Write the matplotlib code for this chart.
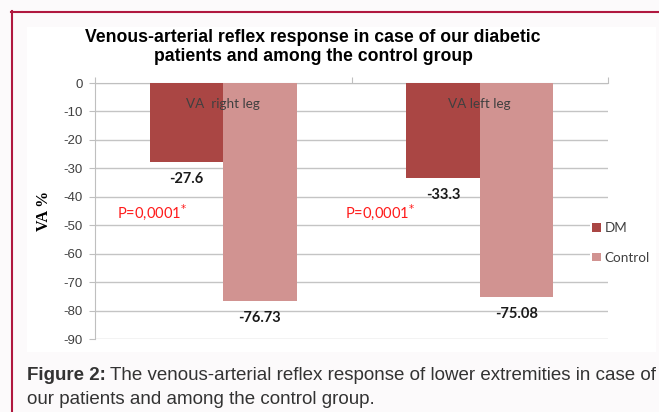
import matplotlib.pyplot as plt
import numpy as np
from matplotlib.lines import Line2D
from matplotlib.patches import Rectangle

categories = ['VA  right leg', 'VA left leg']
series = ['DM', 'Control']
dm_values = [-27.6, -33.3]
control_values = [-76.73, -75.08]
dm_labels = ['-27.6', '-33.3']
control_labels = ['-76.73', '-75.08']
p_labels = ['P=0,0001', 'P=0,0001']
y_ticks = [0, -10, -20, -30, -40, -50, -60, -70, -80, -90]

colors = ['#aa4644', '#d19391']
W, H = 659, 412

fig = plt.figure(figsize=(W / 100, H / 100), dpi=100, facecolor='#fcfafb')

# page frame and white chart area
fig.add_artist(Rectangle((27 / W, 1 - 352 / H), 629 / W, 325 / H, transform=fig.transFigure,
                         facecolor='white', edgecolor='none', zorder=0))
fig.add_artist(Line2D([11 / W, 1], [1 - 11.5 / H, 1 - 11.5 / H], transform=fig.transFigure,
                      color='#b0183f', lw=1.5))
fig.add_artist(Line2D([11.5 / W, 11.5 / W], [0, 1 - 11 / H], transform=fig.transFigure,
                      color='#b0183f', lw=1.5))

ax = fig.add_axes([95 / W, 1 - 339 / H, 513 / W, 256 / H])
ax.set_facecolor('none')

x = np.arange(len(categories))
width = 0.286
ax.bar(x - width / 2, dm_values, width, color=colors[0], label=series[0], zorder=3)
ax.bar(x + width / 2, control_values, width, color=colors[1], label=series[1], zorder=3)

ax.set_xlim(-0.5, 1.5)
ax.set_ylim(-90, 0)
ax.set_yticks(y_ticks)
ax.set_yticklabels([str(t) for t in y_ticks], fontsize=9.5, color='#404040', family='Liberation Sans')
ax.yaxis.grid(True, color='#c4c4c4', lw=1, zorder=0)
ax.tick_params(axis='y', length=4, color='#bfbfbf', pad=5)

ax.set_xticks([-0.5, 0.5, 1.5])
ax.set_xticklabels([])
ax.xaxis.set_ticks_position('top')
ax.tick_params(axis='x', length=4, color='#bfbfbf', direction='out')

for s in ['right', 'bottom']:
    ax.spines[s].set_visible(False)
for s in ['left', 'top']:
    ax.spines[s].set_color('#bfbfbf')

p_offsets = (-0.415, -0.526)
for i, cat in enumerate(categories):
    ax.text(x[i], -7.5, cat, ha='center', va='center', fontsize=9.7, color='#404040',
            family='Lato', zorder=4)
    ax.text(x[i] - width / 2, dm_values[i] - 6, dm_labels[i], ha='center', va='center',
            fontsize=10.5, fontweight='bold', color='#1a1a1a', family='Lato', zorder=4)
    ax.text(x[i] + width / 2, control_values[i] - 6, control_labels[i], ha='center', va='center',
            fontsize=10.5, fontweight='bold', color='#1a1a1a', family='Lato', zorder=4)
    ax.text(x[i] + p_offsets[i], -45.5, p_labels[i] + r'$^{*}$', ha='left', va='center',
            fontsize=10.5, color='#ff1a1a', family='Lato', zorder=4)

ax.set_ylabel('VA %', fontsize=11.5, fontweight='bold', family='Liberation Serif', labelpad=8)

leg = ax.legend(loc='center left', bbox_to_anchor=(583 / W, 1 - 243 / H),
                bbox_transform=fig.transFigure, frameon=True, fancybox=False,
                edgecolor='none', facecolor='white', framealpha=1,
                handlelength=0.6, handleheight=0.6, handletextpad=0.3,
                labelspacing=1.3, borderpad=0.2, prop={'family': 'Lato', 'size': 9.7})
for t in leg.get_texts():
    t.set_color('#404040')

fig.text(313 / W, 1 - 47 / H,
         'Venous-arterial reflex response in case of our diabetic\npatients and among the control group',
         ha='center', va='center', fontsize=12.7, fontweight='bold', family='Liberation Sans',
         linespacing=1.15)

# caption
renderer = fig.canvas.get_renderer()
cap_bold = fig.text(27 / W, 1 - 376 / H, 'Figure 2:', ha='left', va='center', fontsize=13.5,
                    fontweight='bold', family='Liberation Sans', color='#333333')
bb = cap_bold.get_window_extent(renderer)
fig.text(bb.x1 / W + 4 / W, 1 - 376 / H,
         'The venous-arterial reflex response of lower extremities in case of',
         ha='left', va='center', fontsize=13.5, family='Liberation Sans', color='#333333')
fig.text(27 / W, 1 - 399 / H, 'our patients and among the control group.', ha='left', va='center',
         fontsize=13.5, family='Liberation Sans', color='#333333')

fig.savefig('out.png', dpi=100, facecolor=fig.get_facecolor())
